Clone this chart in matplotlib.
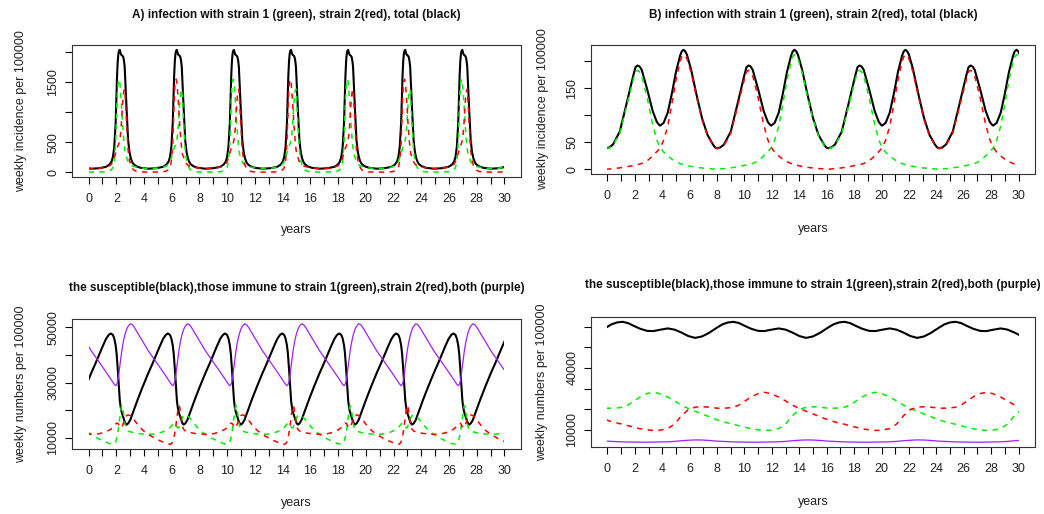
import numpy as np
import matplotlib
matplotlib.use('Agg')
import matplotlib.pyplot as plt
from matplotlib.patches import Rectangle

plt.rcParams['font.family'] = ['Liberation Sans', 'DejaVu Sans']

# ---------------- shared axis text ----------------
year_ticks = list(range(0, 31))
year_tick_labels = [str(v) if v % 2 == 0 else '' for v in year_ticks]
title_inf_a = "A) infection with strain 1 (green), strain 2(red), total (black)"
title_inf_b = "B) infection with strain 1 (green), strain 2(red), total (black)"
title_imm = "the susceptible(black),those immune to strain 1(green),strain 2(red),both (purple)"
ylabel_inf = "weekly incidence per 100000"
ylabel_imm = "weekly numbers per 100000"
xlabel = "years"

# ---------------- panel A / C : epidemic peaks (years) ----------------
# first and last entries are the peaks just outside the 0-30 window
peak_years = [-1.87, 2.25, 6.37, 10.49, 14.61, 18.73, 22.85, 26.97, 31.09]

# panel A: shape of one epidemic, offsets (years) from the total-incidence peak
a_offsets = [-2.06, -1.5, -1.0, -0.75, -0.6, -0.5, -0.4, -0.3, -0.2, -0.15, -0.1, -0.05,
             0.0, 0.05, 0.1, 0.15, 0.2, 0.25, 0.3, 0.35, 0.4, 0.5, 0.6, 0.7, 0.8, 0.9,
             1.0, 1.2, 1.5, 2.06]
a_total = [57, 65, 88, 125, 175, 250, 420, 820, 1600, 1850, 1980, 2030,
           2040, 1990, 1960, 1950, 1940, 1920, 1860, 1760, 1500, 1000, 530, 330, 225, 165,
           130, 97, 72, 57]
a_lead = [0, 1, 5, 20, 40, 75, 180, 500, 1200, 1420, 1520, 1550,
          1500, 1360, 1200, 1000, 800, 640, 500, 390, 300, 240, 170, 135, 115, 103,
          95, 85, 69, 57]
a_lag = [57, 64, 83, 105, 135, 175, 240, 320, 400, 430, 460, 490,
         540, 630, 760, 950, 1140, 1280, 1360, 1385, 1200, 760, 360, 195, 110, 62,
         35, 12, 3, 0]

# panel C: same epidemics, offsets (years) from the total-incidence peak
c_offsets = [-2.06, -1.75, -1.5, -1.25, -1.0, -0.8, -0.65, -0.5, -0.4, -0.3, -0.23, -0.15,
             -0.1, -0.05, 0.0, 0.05, 0.1, 0.15, 0.2, 0.25, 0.3, 0.35, 0.4, 0.45, 0.5, 0.6,
             0.75, 0.9, 1.05, 1.3, 1.65, 2.06]
c_susc = [33500, 37000, 40000, 43000, 45800, 47300, 47800, 47300, 46000, 43500, 40500, 35000,
          31000, 27000, 23500, 21500, 20000, 19000, 18200, 17300, 16500, 15900, 15300, 15000, 14800, 15200,
          16400, 18500, 20500, 24000, 28500, 33500]
c_both = [41500, 39300, 37500, 35700, 33900, 32400, 31300, 30200, 29400, 28900, 29200, 30500,
          32000, 34000, 36000, 38000, 40000, 41800, 43300, 44700, 45900, 47000, 47900, 48700, 49400, 50400,
          51300, 51000, 50000, 47900, 44900, 41500]
c_lead = [11200, 10300, 9600, 9000, 8500, 8000, 7800, 7700, 7800, 8600, 9800, 11800,
          13500, 15500, 17500, 19300, 20800, 21700, 21200, 19500, 17500, 15600, 14300, 13500, 13000, 12500,
          12200, 12000, 11800, 11600, 11400, 11300]
c_lag = [11300, 11300, 11500, 11800, 12200, 12700, 13100, 13700, 14300, 15000, 15300, 15300,
         15000, 14500, 14000, 13700, 13600, 13800, 14500, 15300, 16000, 16700, 17300, 17800, 18100, 18300,
         18100, 17300, 16400, 14800, 12800, 11200]

# ---------------- panel B / D : cycles starting at deep troughs (years) ----------------
cycle_starts = [-0.1, 8.0, 16.1, 24.2]

b_offsets = [0, 0.25, 0.5, 1.0, 1.5, 2.0, 2.15, 2.3, 2.45, 2.6, 3.0, 3.4, 3.7, 3.85, 3.95, 4.2,
             4.5, 4.8, 5.1, 5.4, 5.52, 5.65, 5.78, 5.9, 6.2, 6.6, 7.0, 7.4, 7.8, 7.95, 8.1]
b_total = [39, 41, 46, 70, 122, 175, 189, 192, 190, 184, 148, 108, 88, 83, 81, 86,
           105, 140, 180, 210, 218, 221, 218, 212, 185, 138, 95, 64, 46, 41, 39]
b_first = [38.5, 40, 44.5, 67, 117, 167.5, 180.5, 183, 180, 173, 132, 83, 55, 46, 41, 32,
           25, 19, 14.5, 11, 10, 9, 8.1, 7.3, 5.8, 4, 2.8, 1.8, 1.1, 0.8, 0.5]
b_second = [0.5, 1, 1.5, 3, 5, 7.5, 8.5, 9, 10, 11, 16, 25, 33, 37, 40, 54,
            80, 121, 165.5, 199, 208, 212, 209.9, 204.7, 179.2, 134, 92.2, 62.2, 44.9, 40.2, 38.5]

d_offsets = [0, 0.4, 0.8, 1.2, 1.6, 2.0, 2.5, 3.0, 3.45, 3.9, 4.5, 5.0, 5.5, 6.0, 6.5, 7.0, 7.5, 8.1]
d_susc = [59600, 61200, 62100, 62400, 61800, 60500, 59000, 58000, 57900, 58500, 59200, 58600,
          57200, 55500, 54600, 55300, 57000, 59600]
d_first = [20500, 20500, 20600, 21000, 22000, 23800, 26000, 27600, 28200, 27600, 25900, 24000,
           22000, 20300, 19000, 17700, 16400, 14800]
d_second = [14800, 14000, 13300, 12700, 12000, 11300, 10500, 10000, 9700, 9800, 10600, 12800,
            16800, 19800, 21000, 21200, 21000, 20500]
d_both = [4500, 4400, 4250, 4150, 4100, 4050, 4000, 4000, 4050, 4100, 4200, 4400,
          4700, 4950, 5100, 5050, 4850, 4500]

GREEN = '#00EE00'
RED = '#FF0000'
PURPLE = '#A020F0'
TICK_FS = 9
LAB_FS = 9
TITLE_FS = 8.5


def place(events, offsets, shapes):
    t = np.concatenate([np.asarray(offsets, float) + ev for ev in events])
    y = np.concatenate([np.asarray(s, float) for s in shapes])
    return t, y


def alternate(n, odd_shape, even_shape):
    return [odd_shape if k % 2 == 1 else even_shape for k in range(n)]


fig = plt.figure(figsize=(10.44, 5.14), dpi=100)
W, H = 1044.0, 514.0


def make_axes(left, top, right, bottom):
    return fig.add_axes([left / W, 1 - bottom / H, (right - left) / W, (bottom - top) / H])


def style(ax, yticks, ylabels, title, ylab, box, title_dy, ylab_dx, xlab_dy):
    left, top, right, bottom = box
    wpx, hpx = right - left, bottom - top
    ax.set_xlim(-1.2, 31.2)
    ax.set_xticks(year_ticks)
    ax.set_xticklabels(year_tick_labels)
    ax.set_yticks(yticks)
    ax.set_yticklabels(ylabels, rotation=90, va='center')
    ax.tick_params(axis='both', direction='out', length=5, width=0.8, color='black',
                   labelsize=TICK_FS, labelcolor='#222222')
    ax.tick_params(axis='x', pad=6.5)
    ax.tick_params(axis='y', pad=4)
    for sp in ax.spines.values():
        sp.set_linewidth(0.8)
        sp.set_color('#333333')
    ax.text(0.5, 1 + title_dy / hpx, title, transform=ax.transAxes, ha='center', va='center',
            fontsize=TITLE_FS, fontweight='bold', color='#111111')
    ax.text(-ylab_dx / wpx, 0.5, ylab, transform=ax.transAxes, ha='center', va='center',
            rotation=90, fontsize=LAB_FS, color='#222222')
    ax.text(0.5, -xlab_dy / hpx, xlabel, transform=ax.transAxes, ha='center', va='center',
            fontsize=LAB_FS, color='#222222')


def set_rlim(ax, arrays):
    lo = min(np.min(a) for a in arrays)
    hi = max(np.max(a) for a in arrays)
    ext = 0.04 * (hi - lo)
    ax.set_ylim(lo - ext, hi + ext)
    return lo - ext, hi + ext


def draw(ax, t, y, ylim, **kw):
    line, = ax.plot(t, y, **kw)
    clip = Rectangle((0, ylim[0]), 30, ylim[1] - ylim[0], transform=ax.transData)
    line.set_clip_path(clip)
    return line


# ---------------- Panel A ----------------
boxA = (72, 45, 521, 177)
axA = make_axes(*boxA)
n = len(peak_years)
tA, totA = place(peak_years, a_offsets, [a_total] * n)
_, grA = place(peak_years, a_offsets, alternate(n, a_lead, a_lag))
_, rdA = place(peak_years, a_offsets, alternate(n, a_lag, a_lead))
ylA = set_rlim(axA, [a_total, a_lead, a_lag])
draw(axA, tA, totA, ylA, color='black', lw=1.5)
draw(axA, tA, grA, ylA, color=GREEN, lw=1.1, dashes=(3.5, 3.5))
draw(axA, tA, rdA, ylA, color=RED, lw=1.1, dashes=(3.5, 3.5))
style(axA, [0, 500, 1000, 1500, 2000], ['0', '500', '', '1500', ''], title_inf_a, ylabel_inf,
      boxA, 30, 50.5, 53)

# ---------------- Panel B ----------------
boxB = (591, 45, 1035, 174)
axB = make_axes(*boxB)
m = len(cycle_starts)
tB, totB = place(cycle_starts, b_offsets, [b_total] * m)
_, grB = place(cycle_starts, b_offsets, alternate(m, b_second, b_first))
_, rdB = place(cycle_starts, b_offsets, alternate(m, b_first, b_second))
ylB = set_rlim(axB, [b_total, b_first, b_second])
draw(axB, tB, totB, ylB, color='black', lw=1.5)
draw(axB, tB, grB, ylB, color=GREEN, lw=1.1, dashes=(3.5, 3.5))
draw(axB, tB, rdB, ylB, color=RED, lw=1.1, dashes=(3.5, 3.5))
style(axB, [0, 50, 100, 150, 200], ['0', '50', '', '150', ''], title_inf_b, ylabel_inf,
      boxB, 30, 47.5, 55)

# ---------------- Panel C ----------------
boxC = (72, 319, 521, 449)
axC = make_axes(*boxC)
tC, sC = place(peak_years, c_offsets, [c_susc] * n)
_, bC = place(peak_years, c_offsets, [c_both] * n)
_, grC = place(peak_years, c_offsets, alternate(n, c_lead, c_lag))
_, rdC = place(peak_years, c_offsets, alternate(n, c_lag, c_lead))
ylC = set_rlim(axC, [c_susc, c_both, c_lead, c_lag])
draw(axC, tC, sC, ylC, color='black', lw=1.5)
draw(axC, tC, grC, ylC, color=GREEN, lw=1.1, dashes=(3.5, 3.5))
draw(axC, tC, rdC, ylC, color=RED, lw=1.1, dashes=(3.5, 3.5))
draw(axC, tC, bC, ylC, color=PURPLE, lw=0.9)
style(axC, [10000, 20000, 30000, 40000, 50000], ['10000', '', '30000', '', '50000'], title_imm,
      ylabel_imm, boxC, 31, 51, 54)

# ---------------- Panel D ----------------
boxD = (591, 317, 1035, 447)
axD = make_axes(*boxD)
tD, sD = place(cycle_starts, d_offsets, [d_susc] * m)
_, bD = place(cycle_starts, d_offsets, [d_both] * m)
_, grD = place(cycle_starts, d_offsets, alternate(m, d_second, d_first))
_, rdD = place(cycle_starts, d_offsets, alternate(m, d_first, d_second))
ylD = set_rlim(axD, [d_susc, d_both, d_first, d_second])
draw(axD, tD, sD, ylD, color='black', lw=1.5)
draw(axD, tD, grD, ylD, color=GREEN, lw=1.1, dashes=(3.5, 3.5))
draw(axD, tD, rdD, ylD, color=RED, lw=1.1, dashes=(3.5, 3.5))
draw(axD, tD, bD, ylD, color=PURPLE, lw=0.9)
style(axD, [10000, 20000, 30000, 40000, 50000, 60000], ['10000', '', '', '40000', '', ''], title_imm,
      ylabel_imm, boxD, 32, 49, 55)

fig.savefig('out.png', dpi=100)
